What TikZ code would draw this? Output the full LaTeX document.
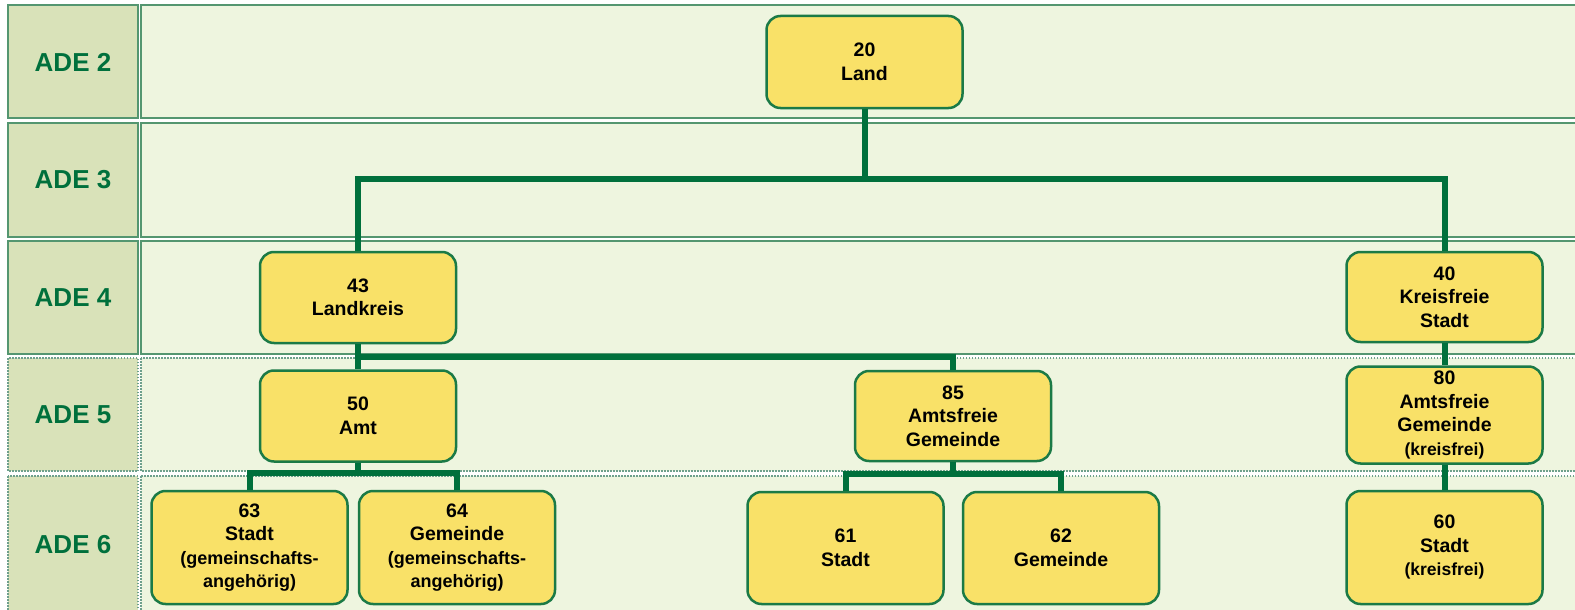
\documentclass[tikz,border=0pt]{standalone}
\usepackage{fontspec}
\setmainfont{Liberation Sans}
\definecolor{labelfill}{RGB}{217,226,185}
\definecolor{rowfill}{RGB}{238,245,223}
\definecolor{nodefill}{RGB}{249,225,104}
\definecolor{dkgreen}{RGB}{0,112,60}
\definecolor{nodeborder}{RGB}{27,122,70}
\definecolor{rowborder}{RGB}{84,150,112}
\definecolor{dotborder}{RGB}{110,160,140}
\begin{document}
\begin{tikzpicture}[x=1pt,y=-1pt,
  unit/.style={draw=nodeborder, fill=nodefill, line width=2.5pt, rounded corners=14pt,
    align=center, inner sep=0pt, minimum width=196pt,
    font=\bfseries\fontsize{19.5}{23.5}\selectfont, text=black},
  conn/.style={draw=dkgreen, line width=6pt},
  lbl/.style={font=\bfseries\fontsize{26}{30}\selectfont, text=dkgreen},
  solidrow/.style={draw=rowborder, line width=1.5pt},
  dotrow/.style={draw=dotborder, line width=1.2pt, dash pattern=on 1.5pt off 1.5pt}]
\useasboundingbox (0,0) rectangle (1575,610);
\clip (0,0) rectangle (1575,610);
\fill[white] (0,0) rectangle (1575,610);
% rows
\foreach \t/\b in {5/118,123/237,241/354}{
  \fill[labelfill] (8,\t) rectangle (138,\b);
  \draw[solidrow] (8,\t) rectangle (138,\b);
  \fill[rowfill] (141,\t) rectangle (1590,\b);
  \draw[solidrow] (141,\t) rectangle (1590,\b);
}
\foreach \t/\b in {358/471,476/630}{
  \fill[labelfill] (8,\t) rectangle (138,\b);
  \draw[dotrow] (8,\t) rectangle (138,\b);
  \fill[rowfill] (141,\t) rectangle (1590,\b);
  \draw[dotrow] (141,\t) rectangle (1590,\b);
}
\node[lbl] (l2) at (73,62) {ADE 2};
\node[lbl] (l3) at (73,180) {ADE 3};
\node[lbl] (l4) at (73,298) {ADE 4};
\node[lbl] (l5) at (73,415) {ADE 5};
\node[lbl] (l6) at (73,545) {ADE 6};
% units
\node[unit, minimum height=92pt] (land) at (864.5,62) {20\\Land};
\node[unit, minimum height=91pt] (lk) at (358,297.5) {43\\Landkreis};
\node[unit, minimum height=90pt] (kfs) at (1444.5,297) {40\\Kreisfreie\\Stadt};
\node[unit, minimum height=91pt] (amt) at (358,416) {50\\Amt};
\node[unit, minimum height=90pt] (afg) at (953,416) {85\\Amtsfreie\\Gemeinde};
\node[unit, minimum height=97pt] (af80) at (1444.5,415) {80\\Amtsfreie\\Gemeinde\\{\fontsize{17.5}{21}\selectfont(kreisfrei)}};
\node[unit, minimum height=113pt] (s63) at (249.5,547.5) {63\\Stadt\\{\fontsize{18}{22}\selectfont(gemeinschafts-}\\{\fontsize{18}{22}\selectfont angehörig)}};
\node[unit, minimum height=113pt] (g64) at (457,547.5) {64\\Gemeinde\\{\fontsize{18}{22}\selectfont(gemeinschafts-}\\{\fontsize{18}{22}\selectfont angehörig)}};
\node[unit, minimum height=112pt] (s61) at (845.5,548) {61\\Stadt};
\node[unit, minimum height=112pt] (g62) at (1061,548) {62\\Gemeinde};
\node[unit, minimum height=113pt] (s60) at (1444.5,547.5) {60\\Stadt\\{\fontsize{17.5}{21}\selectfont(kreisfrei)}};
% connectors
\coordinate (j1) at (864.5,179);
\coordinate (j2) at (358,357);
\coordinate (j3) at (358,473);
\coordinate (j4) at (953,474);
\draw[conn] (land.south) -- (j1);
\draw[conn] (lk.north) |- (j1) -| (kfs.north);
\draw[conn] (lk.south) -- (j2) -| (afg.north);
\draw[conn] (j2) -- (amt.north);
\draw[conn] (amt.south) -- (j3);
\draw[conn] (s63.north) |- (j3) -| (g64.north);
\draw[conn] (afg.south) -- (j4);
\draw[conn] (s61.north) |- (j4) -| (g62.north);
\draw[conn] (kfs.south) -- (af80.north);
\draw[conn] (af80.south) -- (s60.north);
\end{tikzpicture}
\end{document}
